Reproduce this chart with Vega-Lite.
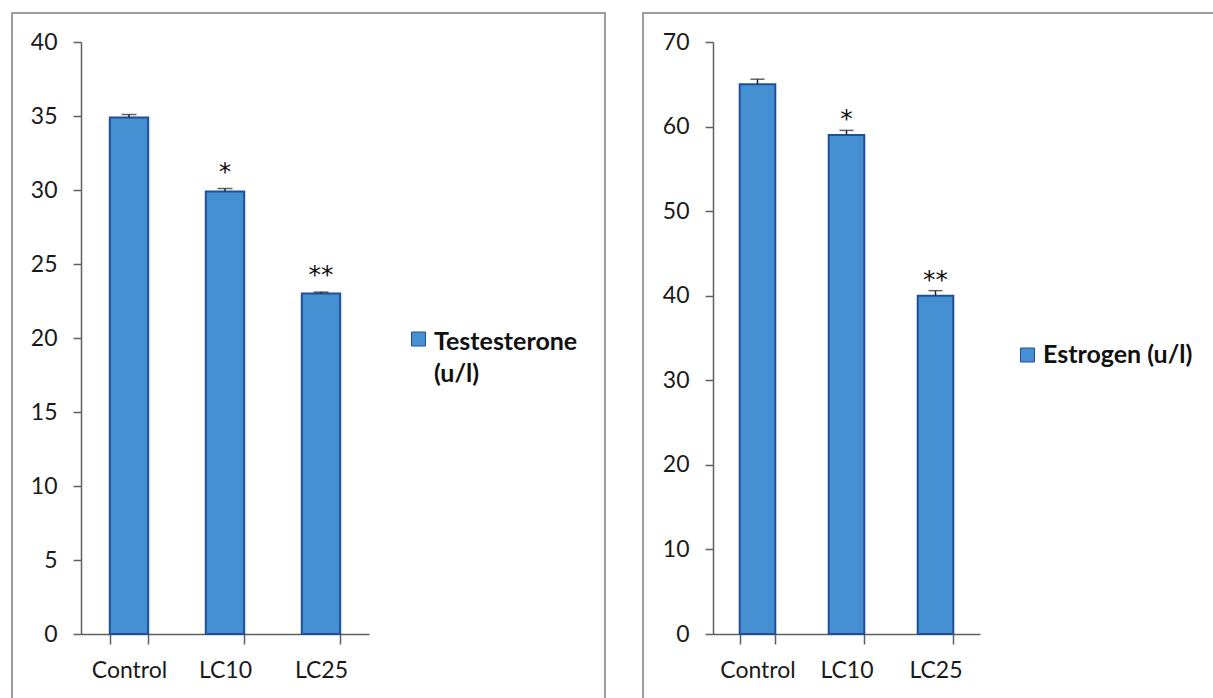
{
  "$schema": "https://vega.github.io/schema/vega-lite/v6.json",
  "padding": {"left": 11, "top": 12, "right": 0, "bottom": 0},
  "background": "white",
  "spacing": 36,
  "resolve": {"scale": {"color": "independent"}, "legend": {"color": "independent"}},
  "config": {
    "view": {"stroke": "#7f7f7f", "strokeWidth": 1.5},
    "font": "Lato",
    "style": {"guide-label": {"lineHeight": 32}},
    "axis": {
      "labelFont": "Lato", "labelFontSize": 23, "labelColor": "#1a1a1a",
      "domainColor": "#5f5f5f", "tickColor": "#5f5f5f", "domainWidth": 1.5, "tickWidth": 1.5,
      "grid": false, "title": null
    },
    "legend": {
      "labelFont": "Lato", "labelFontSize": 25, "labelFontWeight": "bold", "labelColor": "#111111",
      "padding": 0, "symbolSize": 196, "symbolStrokeColor": "#1f4f9a",
      "symbolStrokeWidth": 1, "labelOffset": 3, "title": null, "labelLimit": 400
    }
  },
  "hconcat": [
    {
      "width": 593,
      "height": 700,
      "data": {"values": [
        {"group": "Control", "value": 34.9, "top": 35.1, "sig": "", "series": "Testesterone (u/l)"},
        {"group": "LC10", "value": 29.9, "top": 30.1, "sig": "*", "series": "Testesterone (u/l)"},
        {"group": "LC25", "value": 23.0, "top": 23.1, "sig": "**", "series": "Testesterone (u/l)"}
      ]},
      "encoding": {
        "x": {"field": "group", "type": "nominal", "sort": null,
          "scale": {"range": [69, 357], "paddingInner": 0.6, "paddingOuter": 0.3},
          "axis": {"offset": -79, "tickBand": "extent", "tickSize": 10, "labelPadding": 15, "labelAngle": 0}}
      },
      "layer": [
        {
          "mark": {"type": "bar", "stroke": "#1f4f9a", "strokeWidth": 2},
          "encoding": {
            "y": {"field": "value", "type": "quantitative",
              "scale": {"domain": [0, 40], "range": [621, 29], "nice": false, "zero": true},
              "axis": {"offset": -69, "values": [0, 5, 10, 15, 20, 25, 30, 35, 40], "tickSize": 8, "labelPadding": 16}},
            "color": {"field": "series", "type": "nominal",
              "scale": {"range": ["#4490d3"]},
              "legend": {"orient": "none", "legendX": 394, "legendY": 304.5,
                "symbolType": "M-1,0.29H1V2.29H-1Z",
                "labelExpr": "['Testesterone', '(u/l)']", "labelBaseline": "top"}}
          }
        },
        {
          "mark": {"type": "rule", "color": "#222222", "strokeWidth": 1.5},
          "encoding": {"y": {"field": "value", "type": "quantitative"}, "y2": {"field": "top"}}
        },
        {
          "mark": {"type": "tick", "color": "#222222", "size": 15, "thickness": 1.5},
          "encoding": {"y": {"field": "top", "type": "quantitative"}}
        },
        {
          "mark": {"type": "text", "font": "DejaVu Sans", "fontSize": 25, "baseline": "middle", "dy": -17, "color": "#111111"},
          "encoding": {"y": {"field": "top", "type": "quantitative"}, "text": {"field": "sig"}}
        }
      ]
    },
    {
      "width": 600,
      "height": 700,
      "data": {"values": [
        {"group": "Control", "value": 65.0, "top": 65.6, "sig": "", "series": "Estrogen (u/l)"},
        {"group": "LC10", "value": 59.0, "top": 59.55, "sig": "*", "series": "Estrogen (u/l)"},
        {"group": "LC25", "value": 40.0, "top": 40.6, "sig": "**", "series": "Estrogen (u/l)"}
      ]},
      "encoding": {
        "x": {"field": "group", "type": "nominal", "sort": null,
          "scale": {"range": [70, 337], "paddingInner": 0.6, "paddingOuter": 0.3},
          "axis": {"offset": -79, "tickBand": "extent", "tickSize": 10, "labelPadding": 15, "labelAngle": 0}}
      },
      "layer": [
        {
          "mark": {"type": "bar", "stroke": "#1f4f9a", "strokeWidth": 2},
          "encoding": {
            "y": {"field": "value", "type": "quantitative",
              "scale": {"domain": [0, 70], "range": [621, 29], "nice": false, "zero": true},
              "axis": {"offset": -70, "values": [0, 10, 20, 30, 40, 50, 60, 70], "tickSize": 8, "labelPadding": 16}},
            "color": {"field": "series", "type": "nominal",
              "scale": {"range": ["#4490d3"]},
              "legend": {"orient": "none", "legendX": 372, "legendY": 329.5, "symbolType": "square"}}
          }
        },
        {
          "mark": {"type": "rule", "color": "#222222", "strokeWidth": 1.5},
          "encoding": {"y": {"field": "value", "type": "quantitative"}, "y2": {"field": "top"}}
        },
        {
          "mark": {"type": "tick", "color": "#222222", "size": 14, "thickness": 1.5},
          "encoding": {"y": {"field": "top", "type": "quantitative"}}
        },
        {
          "mark": {"type": "text", "font": "DejaVu Sans", "fontSize": 25, "baseline": "middle", "dy": -11, "color": "#111111"},
          "encoding": {"y": {"field": "top", "type": "quantitative"}, "text": {"field": "sig"}}
        }
      ]
    }
  ]
}
